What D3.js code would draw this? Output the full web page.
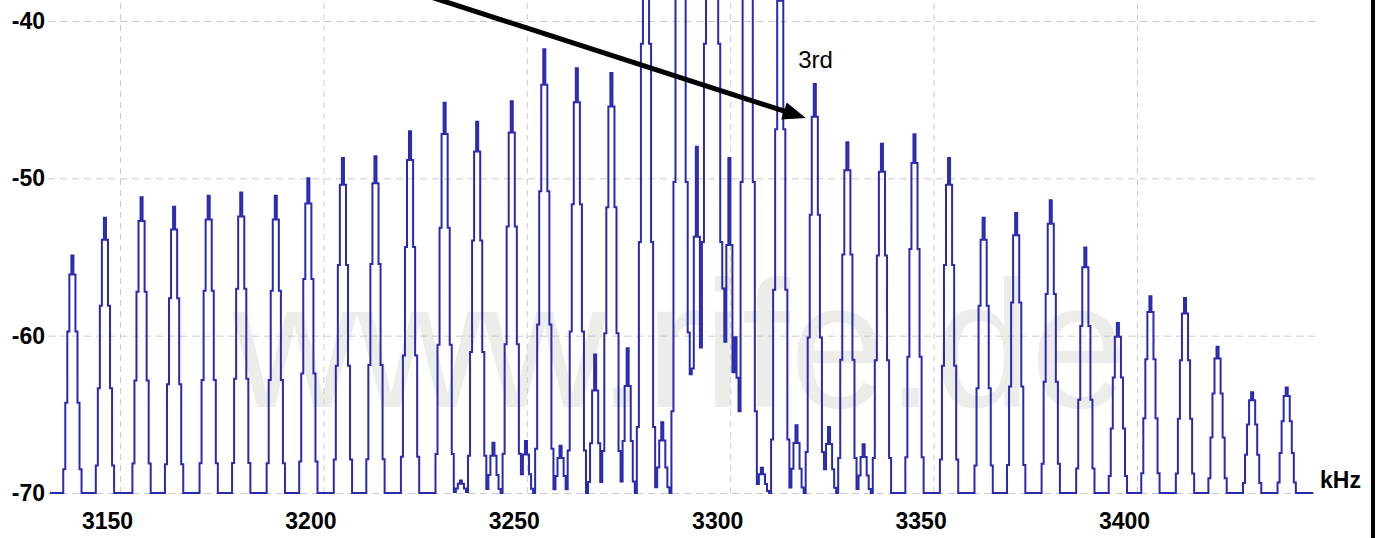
<!DOCTYPE html>
<html>
<head>
<meta charset="utf-8">
<script src="https://cdn.jsdelivr.net/npm/d3@7"></script>
<style>
  html, body { margin: 0; padding: 0; background: #ffffff; overflow: hidden; }
  svg { display: block; }
</style>
</head>
<body>
<svg id="chart" width="1379" height="538"></svg>
<script>
// ---------------- DATA ----------------
const xTickValues = [3150, 3200, 3250, 3300, 3350, 3400];   // kHz
const yTickValues = [-40, -50, -60, -70];                   // dB
const xUnitLabel = "kHz";
const watermarkText = "www.rife.de";

// main sideband lines: centre frequency (kHz) and peak level (dB)
const sidebandFreqs = [
  3138.3, 3146.4, 3155.1, 3163.3, 3171.6, 3179.9, 3188.3, 3196.2, 3204.6, 3212.9,
  3221.1, 3229.7, 3237.8, 3246.1, 3254.4, 3262.4, 3270.6, 3279.2, 3287.7, 3294.9,
  3296.4, 3304.1, 3312.4, 3320.9, 3328.9, 3337.1, 3345.3, 3353.9, 3362.1, 3370.4,
  3379.0, 3387.2, 3395.4, 3403.4, 3411.8, 3419.8, 3428.4, 3436.8
];
const sidebandLevels = [
  -54.9, -52.5, -51.2, -51.8, -51.1, -50.9, -51.1, -50.0, -48.7, -48.6,
  -47.0, -45.2, -46.4, -45.1, -41.8, -43.0, -43.3, -28.0, -18.0, -28.0,
  -28.0, -18.0, -36.0, -44.0, -47.7, -47.8, -47.2, -48.7, -52.5, -52.2,
  -51.4, -54.4, -59.2, -57.5, -57.6, -60.7, -63.6, -63.3
];

// small in-between products (kHz, dB)
const spurFreqs = [
  3233.8, 3241.7, 3250.0, 3258.4, 3266.9, 3275.0, 3283.2, 3289.9, 3291.8, 3293.4,
  3298.1, 3299.6, 3301.3, 3307.7, 3316.3, 3324.5, 3333.0
];
const spurLevels = [
  -69.2, -66.8, -66.7, -67.0, -61.2, -60.8, -65.5, -59.8, -48.0, -57.5,
  -57.0, -48.7, -60.1, -68.4, -65.7, -65.8, -66.9
];

// skirt of one line, per analyzer bin away from its centre,
// as a fraction of its height above the display floor
const sidebandSkirt = [1, 0.92, 0.68, 0.38, 0.1];
const spurSkirt = [1, 0.74, 0.36, 0.08];

const floorDb = -70;
const binKHz = 0.5;
const spanKHz = [3132.8, 3443.3];

// annotation (data coordinates)
const annotLabel = "3rd";
const annotFrom = [3218.8, -37.84];
const annotTo = [3318.6, -46.17];
const annotTextAt = [3316.7, -43.0];

// ---------------- LAYOUT ----------------
const W = 1379, H = 538;
const gridLeft = 48, gridRight = 1315;
const fontFam = "'Liberation Sans', Arial, Helvetica, sans-serif";

const svg = d3.select("#chart");
svg.append("rect").attr("x", 0).attr("y", 0).attr("width", W).attr("height", H).attr("fill", "#ffffff");

const x = d3.scaleLinear().domain([3150, 3400]).range([120, 1137]);
const y = d3.scaleLinear().domain([-70, -40]).range([493, 21]);

// watermark
svg.append("text")
  .attr("x", 232).attr("y", 407)
  .attr("font-family", fontFam)
  .attr("font-size", 180)
  .attr("fill", "#ececE8")
  .attr("textLength", 895)
  .attr("lengthAdjust", "spacingAndGlyphs")
  .text(watermarkText);

// horizontal grid + y labels
const yAxis = svg.append("g")
  .attr("transform", `translate(${gridLeft},0)`)
  .call(d3.axisLeft(y).tickValues(yTickValues).tickSize(-(gridRight - gridLeft)).tickPadding(3).tickFormat(d => String(d)));
yAxis.select(".domain").remove();
yAxis.selectAll(".tick line")
  .attr("stroke", d => d === -70 ? "#c6c8dc" : "#c8c8c8")
  .attr("stroke-width", 1)
  .attr("stroke-dasharray", "7,5");
yAxis.selectAll(".tick text")
  .attr("font-family", fontFam)
  .attr("font-weight", "bold")
  .attr("font-size", 23)
  .attr("fill", "#000");

// vertical grid + x labels
const xAxis = svg.append("g")
  .attr("transform", `translate(0,${y(-70)})`)
  .call(d3.axisBottom(x).tickValues(xTickValues).tickSize(-y(-70)).tickPadding(20).tickFormat(d => String(d)));
xAxis.select(".domain").remove();
xAxis.selectAll(".tick line")
  .attr("stroke", "#cccccc")
  .attr("stroke-width", 1)
  .attr("stroke-dasharray", "6,5");
xAxis.selectAll(".tick text")
  .attr("font-family", fontFam)
  .attr("font-weight", "bold")
  .attr("font-size", 23)
  .attr("fill", "#000")
  .attr("dx", -13);

// unit label
svg.append("text")
  .attr("x", 1320).attr("y", y(-70) - 5)
  .attr("font-family", fontFam)
  .attr("font-weight", "bold")
  .attr("font-size", 23)
  .attr("fill", "#000")
  .text(xUnitLabel);

// ---------------- TRACE ----------------
const nBins = Math.round((spanKHz[1] - spanKHz[0]) / binKHz);
const trace = d3.range(nBins + 1).map(i => ({ f: spanKHz[0] + i * binKHz, v: floorDb }));
function addLines(freqs, levels, skirt) {
  freqs.forEach((fc, j) => {
    const ic = Math.round((fc - spanKHz[0]) / binKHz);
    const h = levels[j] - floorDb;
    skirt.forEach((frac, k) => {
      [ic - k, ic + k].forEach(i => {
        if (i >= 0 && i <= nBins) {
          trace[i].v = Math.max(trace[i].v, floorDb + h * frac);
        }
      });
    });
  });
}
addLines(sidebandFreqs, sidebandLevels, sidebandSkirt);
addLines(spurFreqs, spurLevels, spurSkirt);

const line = d3.line().x(d => x(d.f)).y(d => y(d.v)).curve(d3.curveStep);
svg.append("path")
  .datum(trace)
  .attr("d", line)
  .attr("fill", "none")
  .attr("stroke", "#2a2ab0")
  .attr("stroke-width", 2)
  .attr("stroke-linejoin", "miter");

// ---------------- ANNOTATION ----------------
const p0 = [x(annotFrom[0]), y(annotFrom[1])];
const p1 = [x(annotTo[0]), y(annotTo[1])];
const dxA = p1[0] - p0[0], dyA = p1[1] - p0[1];
const len = Math.hypot(dxA, dyA);
const ux = dxA / len, uy = dyA / len;
const headL = 23, headW = 9;
const base = [p1[0] - headL * ux, p1[1] - headL * uy];
svg.append("line")
  .attr("x1", p0[0]).attr("y1", p0[1])
  .attr("x2", base[0] + 2 * ux).attr("y2", base[1] + 2 * uy)
  .attr("stroke", "#000").attr("stroke-width", 5);
svg.append("polygon")
  .attr("points", [
    p1,
    [base[0] - headW * uy, base[1] + headW * ux],
    [base[0] + headW * uy, base[1] - headW * ux]
  ].map(p => p.join(",")).join(" "))
  .attr("fill", "#000");
svg.append("text")
  .attr("x", x(annotTextAt[0])).attr("y", y(annotTextAt[1]))
  .attr("font-family", fontFam)
  .attr("font-size", 24)
  .attr("fill", "#000")
  .text(annotLabel);

// right frame edge
svg.append("line")
  .attr("x1", 1373).attr("x2", 1373).attr("y1", 0).attr("y2", H)
  .attr("stroke", "#000").attr("stroke-width", 4);
</script>
</body>
</html>
